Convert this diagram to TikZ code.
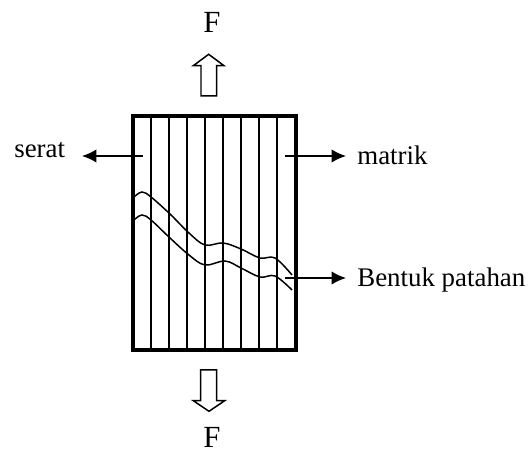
\documentclass[tikz,border=0pt]{standalone}
\usepackage{fontspec}
\setmainfont{Liberation Serif}
\usetikzlibrary{arrows.meta}

\begin{document}
\begin{tikzpicture}[x=0.02cm,y=-0.02cm,label/.style={font=\fontsize{15.3}{18}\selectfont,inner sep=0pt}]
    \tikzset{edge/.style = {-{Latex[length=0.29cm,width=0.27cm]},line width=0.9pt}}
    \tikzset{fiber/.style = {line width=0.85pt}}
    \tikzset{crack/.style = {line width=0.85pt}}
    \tikzset{force/.style = {draw,line width=0.85pt,line join=miter}}
    \tikzset{big/.style = {font=\fontsize{17.5}{20}\selectfont,inner sep=0pt}}

    \useasboundingbox (0,0) rectangle (529,449);

    \node[rectangle,draw,line width=2pt,minimum width=3.26cm,minimum height=4.68cm,inner sep=0pt] (frame) at (214.3,233) {};

    \foreach \x in {151,169,187,205,223,241,259,277}
        \draw[fiber] (\x,116) -- (\x,350);

    \draw[crack] plot[smooth,tension=0.6] coordinates {(134,197) (142,192) (151,197) (170,214) (189,233) (205,245) (223,243) (241,249) (260,258) (275,258) (292,275)};
    \draw[crack] plot[smooth,tension=0.6] coordinates {(134,220) (142,215) (151,220) (170,238) (189,255) (205,265) (225,261) (241,268) (260,277) (275,276) (292,290)};

    \draw[force] (201,96) -- (201,65.7) -- (193.3,65.7) -- (208.7,54.3) -- (224,65.7) -- (216.7,65.7) -- (216.7,96) -- cycle;
    \draw[force] (200.7,370) -- (200.7,400.7) -- (193.3,400.7) -- (209,411.3) -- (224.7,400.7) -- (216.7,400.7) -- (216.7,370) -- cycle;

    \node[big] (ftop) at (212,22) {F};
    \node[big] (fbottom) at (212,437) {F};

    \node[label,anchor=base west] (serat) at (14,157.5) {serat};
    \node[label,anchor=base west] (matrik) at (357,164.5) {matrik};
    \node[label,anchor=base west] (patahan) at (357,287) {Bentuk patahan};

    \coordinate (seratin) at (143,156);
    \coordinate (seratout) at (82,156);
    \coordinate (matrikin) at (285,156);
    \coordinate (matrikout) at (346,156);
    \coordinate (patahanin) at (285,278);
    \coordinate (patahanout) at (346,278);

    \draw[edge] (seratin) to (seratout);
    \draw[edge] (matrikin) to (matrikout);
    \draw[edge] (patahanin) to (patahanout);
\end{tikzpicture}
\end{document}
